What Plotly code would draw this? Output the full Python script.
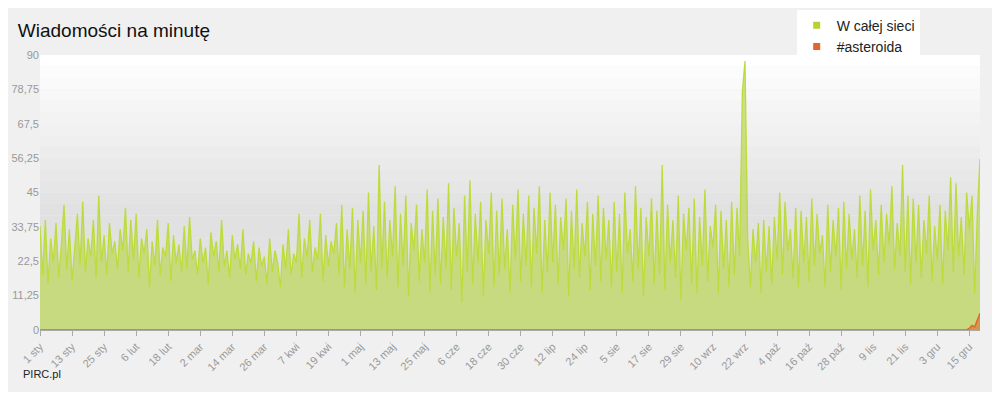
import pandas as pd
import plotly.graph_objs as go

# dzienne wartości (wiadomości na minutę)
sty = [34, 18, 36, 15, 30, 22, 35, 17, 28, 41, 20, 33, 16, 27, 38, 21, 42, 19, 30, 24,
       36, 17, 44, 22, 31, 18, 35, 25, 29, 20, 33]
lut = [26, 40, 19, 36, 23, 38, 17, 30, 25, 33, 14, 29, 21, 36, 18, 27, 24, 35, 16, 31,
       22, 28, 19, 34, 20, 37, 23, 26]
mar = [18, 30, 22, 27, 15, 32, 24, 29, 19, 36, 21, 26, 17, 31, 23, 28, 20, 33, 18, 25,
       22, 29, 16, 27, 21, 24, 15, 30, 19, 26, 22]
kwi = [14, 28, 20, 33, 18, 25, 22, 38, 17, 30, 24, 36, 19, 27, 23, 38, 16, 31, 21, 29,
       25, 35, 18, 41, 14, 33, 20, 40, 12, 36]
maj = [22, 39, 15, 45, 19, 34, 13, 54, 20, 42, 17, 36, 24, 47, 14, 38, 21, 44, 11, 35,
       26, 41, 16, 33, 22, 46, 12, 39, 18, 43, 15]
cze = [37, 20, 48, 13, 40, 24, 35, 9, 44, 19, 49, 15, 38, 22, 42, 11, 36, 25, 45, 14,
       39, 18, 43, 20, 33, 12, 41, 23, 46, 16]
lip = [38, 21, 44, 14, 40, 25, 47, 12, 36, 19, 45, 22, 41, 15, 37, 26, 43, 11, 39, 20,
       46, 17, 35, 24, 42, 13, 38, 21, 44, 16, 40]
sie = [23, 36, 14, 42, 19, 38, 12, 45, 25, 33, 16, 47, 20, 40, 11, 37, 24, 43, 15, 39,
       18, 54, 13, 41, 22, 36, 17, 44, 10, 38, 26]
wrz = [40, 15, 43, 12, 37, 21, 46, 16, 34, 27, 41, 12, 39, 20, 36, 14, 42, 18, 40, 24,
       78, 88, 30, 14, 33, 22, 35, 12, 36, 19]
paz = [34, 15, 37, 23, 45, 18, 42, 26, 33, 17, 40, 14, 39, 22, 37, 16, 43, 21, 38, 25,
       31, 14, 41, 19, 36, 24, 40, 13, 42, 20, 38]
lis = [23, 33, 17, 44, 21, 39, 14, 46, 26, 36, 18, 41, 22, 38, 28, 47, 20, 35, 24, 54,
       19, 44, 15, 43, 22, 41, 17, 36, 25, 44]
gru = [16, 34, 23, 41, 15, 39, 26, 50, 19, 48, 24, 37, 18, 45, 33, 44, 12, 38, 56]

w_calej_sieci = sty + lut + mar + kwi + maj + cze + lip + sie + wrz + paz + lis + gru
asteroida = [0] * (len(w_calej_sieci) - 5) + [0.5, 1.5, 1, 3, 5.5]

daty = pd.date_range('2013-01-01', periods=len(w_calej_sieci), freq='D')
mies = ['sty', 'lut', 'mar', 'kwi', 'maj', 'cze', 'lip', 'sie', 'wrz', 'paź', 'lis', 'gru']
tick_daty = pd.date_range('2013-01-01', '2013-12-20', freq='12D')
tick_tekst = [f'{d.day} {mies[d.month - 1]}' for d in tick_daty]
y_ticki = [0, 11.25, 22.5, 33.75, 45, 56.25, 67.5, 78.75, 90]
y_tekst = [f'{v:g}'.replace('.', ',') for v in y_ticki]

fig = go.Figure()
fig.add_trace(go.Scatter(x=daty, y=w_calej_sieci, mode='lines', name='W całej sieci',
                         line=dict(color='#bcdc3c', width=1.3), fill='tozeroy',
                         fillcolor='rgba(190,215,95,0.75)', showlegend=False))
fig.add_trace(go.Scatter(x=daty, y=asteroida, mode='lines', name='#asteroida',
                         line=dict(color='#e0662e', width=1.5), fill='tozeroy',
                         fillcolor='rgba(224,102,46,0.6)', showlegend=False))
# wpisy legendy z kwadratowymi znacznikami
for nazwa, kolor in [('W całej sieci', '#b5d334'), ('#asteroida', '#e0662e')]:
    fig.add_trace(go.Scatter(x=[None], y=[None], mode='markers', name=nazwa,
                             marker=dict(symbol='square', size=7, color=kolor)))

# gradient tła obszaru wykresu
shapes = []
n = 24
for i in range(n):
    g = int(255 - 30 * min(1, i / (n * 0.55)))
    shapes.append(dict(type='rect', xref='paper', yref='paper', layer='below',
                       x0=0, x1=1, y0=1 - (i + 1) / n, y1=1 - i / n,
                       fillcolor=f'rgb({g},{g},{g})', line=dict(width=0)))

fig.update_layout(
    width=984, height=384,
    margin=dict(l=32, r=12, t=47, b=62, autoexpand=False),
    paper_bgcolor='#f0f0f0', plot_bgcolor='rgba(0,0,0,0)',
    font=dict(family='Liberation Sans, Arial', color='#999'),
    title=dict(text='Wiadomości na minutę', x=0.01, y=0.96, xanchor='left',
               font=dict(size=19, color='#111')),
    legend=dict(x=0.805, y=1.165, xanchor='left', yanchor='top', bgcolor='white',
                font=dict(size=14, color='#222'), tracegroupgap=0),
    shapes=shapes,
    xaxis=dict(tickvals=tick_daty, ticktext=tick_tekst, tickangle=-45, automargin=False,
               range=[daty[0], daty[-1]], showgrid=False, ticks='outside',
               ticklen=5, tickcolor='#aaa', showline=True, linecolor='#aaa',
               tickfont=dict(size=11, color='#999')),
    yaxis=dict(tickvals=y_ticki, ticktext=y_tekst, range=[0, 90], showgrid=False,
               zeroline=False, automargin=False, tickfont=dict(size=11, color='#999')),
    annotations=[dict(text='PIRC.pl', xref='paper', yref='paper', x=-0.02, y=-0.19,
                      xanchor='left', showarrow=False, font=dict(size=11, color='#222'))],
)

fig.write_html('out.html')
